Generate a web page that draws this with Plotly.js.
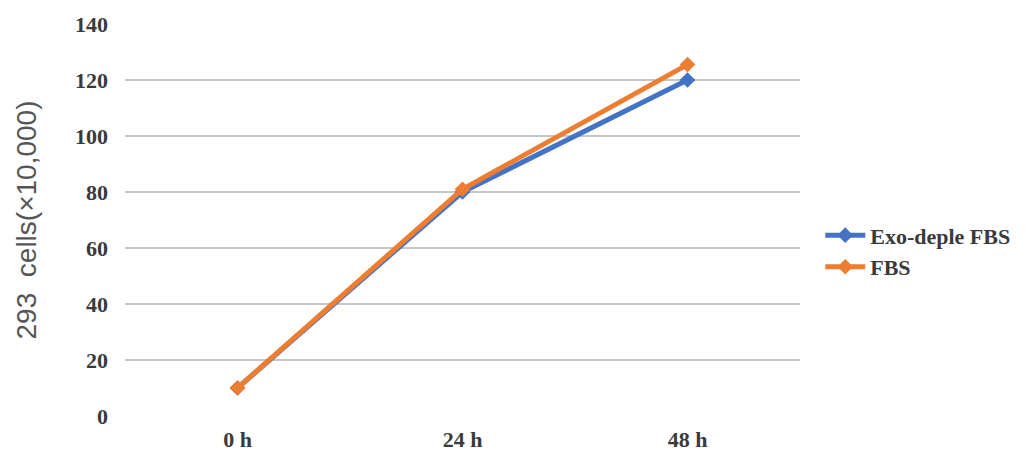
<!DOCTYPE html>
<html><head><meta charset="utf-8">
<script src="https://cdn.plot.ly/plotly-3.0.1.min.js"></script>
<style>html,body{margin:0;padding:0;background:#fff}</style>
</head><body>
<div id="chart" style="width:1033px;height:459px"></div>
<script>
const categories = ["0 h", "24 h", "48 h"];
const exoDepleFBS = [10, 80, 120];
const fbs = [10, 81, 125.5];
const seriesNames = ["Exo-deple FBS", "FBS"];
const yTicks = [0, 20, 40, 60, 80, 100, 120, 140];
const gridTicks = [0, 20, 40, 60, 80, 100, 120];

const serif = "Liberation Serif, Times New Roman, serif";
const traces = [
  {x: categories, y: [null, null, null], yaxis: "y2", showlegend: false, hoverinfo: "skip", type: "scatter", mode: "lines"},
  {x: categories, y: exoDepleFBS, name: seriesNames[0], type: "scatter", mode: "lines+markers",
   line: {color: "#4472C4", width: 5}, marker: {symbol: "diamond", size: 12, color: "#4472C4"}},
  {x: categories, y: fbs, name: seriesNames[1], type: "scatter", mode: "lines+markers",
   line: {color: "#ED7D31", width: 5}, marker: {symbol: "diamond", size: 12, color: "#ED7D31"}}
];

const layout = {
  width: 1033, height: 459,
  margin: {l: 125, r: 233, t: 24, b: 43},
  paper_bgcolor: "#fff", plot_bgcolor: "#fff",
  showlegend: true,
  legend: {x: 1.03, y: 0.42, xanchor: "left", yanchor: "middle",
           font: {family: serif, size: 22, color: "#3a3a3a", weight: "bold"},
           itemwidth: 40, tracegroupgap: 2},
  xaxis: {type: "category", range: [-0.5, 2.5], showgrid: false, zeroline: false, showline: false,
          tickfont: {family: serif, size: 22, color: "#3a3a3a", weight: "bold"},
          ticklabelstandoff: 8},
  yaxis: {range: [0, 140], tickvals: yTicks, showgrid: false, zeroline: false, showline: false,
          tickfont: {family: serif, size: 22, color: "#3a3a3a", weight: "bold"},
          ticklabelstandoff: 16,
          title: {text: "293  cells(×10,000)", standoff: 30,
                  font: {family: "Liberation Sans, Arial, sans-serif", size: 28, color: "#555"}}},
  yaxis2: {range: [0, 140], tickvals: gridTicks, overlaying: "y", side: "left", showticklabels: false,
           showgrid: true, gridcolor: "#c6c6c6", gridwidth: 1.5, zeroline: false, showline: false}
};

Plotly.newPlot("chart", traces, layout, {displayModeBar: false});
</script>
</body></html>
